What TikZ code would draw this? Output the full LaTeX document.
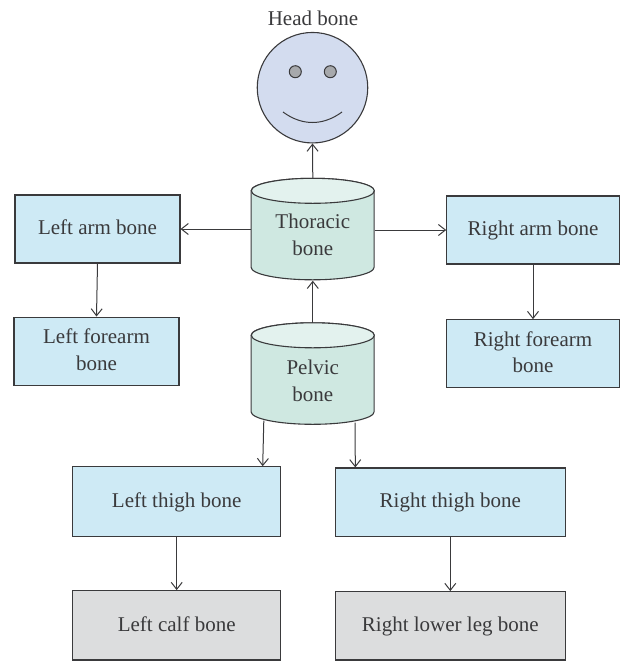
\documentclass[tikz,border=0pt]{standalone}
\usepackage{fontspec}
\setmainfont{Liberation Serif}
\usetikzlibrary{arrows.meta,calc}
\definecolor{ln}{HTML}{3A3A3C}
\definecolor{bluefill}{HTML}{CEEAF5}
\definecolor{greyfill}{HTML}{DCDDDE}
\definecolor{cylbody}{HTML}{CFE8E1}
\definecolor{cyltop}{HTML}{E3F2EE}
\definecolor{headfill}{HTML}{D3DCEF}
\definecolor{eyefill}{HTML}{A7A9AC}
\tikzset{
  x=1pt,y=-1pt,
  lbl/.style={font=\fontsize{21}{26.5}\selectfont,text=ln,align=center,inner sep=0pt,text depth=3pt},
  boxbase/.style={draw=ln,line width=1.1pt,lbl},
  bluebox/.style={boxbase,fill=bluefill},
  greybox/.style={boxbase,fill=greyfill},
  cylframe/.style={minimum width=123pt,minimum height=102pt,inner sep=0pt},
  cylline/.style={draw=ln,line width=1.1pt},
  eye/.style={circle,draw=ln,line width=1pt,fill=eyefill,minimum size=12pt,inner sep=0pt},
  conn/.style={draw=ln,line width=1pt,-{Straight Barb[length=7pt,width=11pt,line width=1pt]}},
}
\newcommand{\bx}[7]{\node[#1,minimum width=#4pt,minimum height=#5pt] (#2) at (#6,#7) {#3};}
% name, centre x, centre y
\newcommand{\cylshape}[3]{%
  \node[cylframe] (#1) at (#2,#3) {};
  \path[cylline,fill=cylbody]
    (#1.north west) ++(0,12.5) -- ++(0,76.5)
    arc[start angle=180,end angle=360,x radius=61.5,y radius=-12.5]
    -- ++(0,-76.5) arc[start angle=0,end angle=180,x radius=61.5,y radius=-12.5] -- cycle;
  \path[cylline,fill=cyltop] (#1.north) ++(0,12.5) ellipse[x radius=61.5,y radius=12.5];
}
\begin{document}
\begin{tikzpicture}
\useasboundingbox (0,0) rectangle (622,662);
\node[lbl] (headlabel) at (313,19.5) {Head bone};
\node[circle,draw=ln,line width=1.1pt,fill=headfill,minimum size=110.5pt,inner sep=0pt] (head) at (312.5,87.7) {};
\node[eye] (eyeL) at (295.3,71.7) {};
\node[eye] (eyeR) at (330.3,71.7) {};
\draw[ln,line width=1pt] (283,112) .. controls (302,126) and (323,126) .. (342,112);
\cylshape{thoracic}{312.8}{229.5}
\node[lbl] (thoraciclabel) at (312.8,236.2) {Thoracic\\bone};
\cylshape{pelvic}{312.8}{374}
\node[lbl] (pelviclabel) at (312.8,382) {Pelvic\\bone};
\bx{bluebox}{larm}{Left arm bone}{165}{68}{97.5}{229}
\bx{bluebox}{lfore}{Left forearm\\bone}{165}{68.5}{96.5}{351.3}
\bx{bluebox}{rarm}{Right arm bone}{172.5}{68}{533}{230}
\bx{bluebox}{rfore}{Right forearm\\bone}{172.5}{68}{533}{353.7}
\bx{bluebox}{lthigh}{Left thigh bone}{208}{69.5}{176.7}{501.5}
\bx{bluebox}{rthigh}{Right thigh bone}{229.5}{68.5}{450.3}{502.2}
\bx{greybox}{lcalf}{Left calf bone}{208}{69.3}{176.7}{625.3}
\bx{greybox}{rcalf}{Right lower leg bone}{229.5}{68.3}{450.3}{625.8}
\draw[conn] (thoracic.north) -- (head.south);
\draw[conn] (pelvic.north) -- (thoracic.south);
\draw[conn] (thoracic.west |- larm.east) -- (larm.east);
\draw[conn] (thoracic.east |- rarm.west) -- (rarm.west);
\draw[conn] (larm.south) -- (lfore.north);
\draw[conn] (rarm.south) -- (rfore.north);
\draw[conn] ($(pelvic.south)+(-49,-4.5)$) -- ($(lthigh.north)+(86,0)$);
\draw[conn] ($(pelvic.south)+(42.3,-2.5)$) -- ($(rthigh.north)+(-95,0)$);
\draw[conn] (lthigh.south) -- (lcalf.north);
\draw[conn] (rthigh.south) -- (rcalf.north);
\end{tikzpicture}
\end{document}
